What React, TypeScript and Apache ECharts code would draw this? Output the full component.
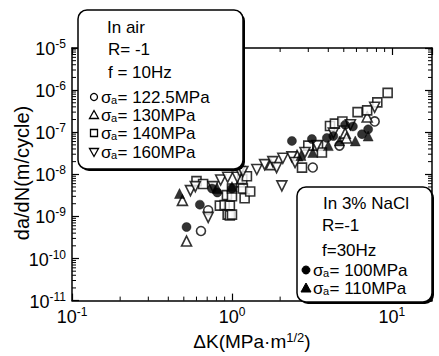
import React, { useEffect, useRef } from "react";
import * as echarts from "echarts";

const X_MIN = 0.1;
const X_MAX = 17.8;
const Y_MIN = 1e-11;
const Y_MAX = 1e-5;

// In air, R=-1, f=10Hz
const air1225: [number, number][] = [
  [0.64, 4.5e-10], [0.71, 1.4e-9], [3.2, 1.45e-8], [4.7, 4.8e-8], [7.8, 1.8e-7],
];
const air130: [number, number][] = [
  [0.49, 2.4e-9], [0.52, 2.6e-10], [1.12, 6.6e-9], [1.75, 1.7e-8], [2.55, 2.8e-8],
  [5.1, 9.5e-8], [5.2, 7.3e-8], [7.0, 2.3e-7],
];
const air140: [number, number][] = [
  [0.6, 6.9e-9], [0.66, 5.9e-9], [0.84, 1.8e-9], [0.9, 1.85e-9], [0.97, 1.8e-9],
  [0.94, 1.1e-9], [0.97, 1.05e-9], [0.93, 3.2e-9], [1.0, 3.0e-9], [1.0, 4.6e-9],
  [1.17, 4.6e-9], [1.16, 7.7e-9], [1.24, 9e-9], [1.2, 2.7e-9], [1.3, 3.9e-9],
  [1.0, 1.1e-9], [2.74, 1.44e-8], [3.0, 4.8e-8], [3.45, 4.8e-8], [3.65, 3.3e-8],
  [4.1, 1.4e-7], [4.4, 1.6e-7], [4.9, 1.8e-7], [6.1, 3.0e-7], [7.0, 3.3e-7],
  [8.1, 5.1e-7], [9.4, 8.6e-7],
];
const air160: [number, number][] = [
  [0.55, 4.1e-9], [0.59, 5.1e-9], [0.71, 9.5e-10], [0.76, 5.1e-9], [0.85, 7.3e-9],
  [0.94, 8.5e-9], [1.08, 8.5e-9], [1.12, 1.17e-8], [1.17, 1.17e-8], [1.43, 1.3e-8],
  [1.6, 1.7e-8], [1.8, 2.0e-8], [1.9, 1.44e-8], [2.05, 5.3e-9], [2.08, 2.4e-8],
  [2.37, 2.6e-8], [2.48, 1.9e-8], [2.86, 3.3e-8], [3.4, 4.8e-8], [4.3, 9.5e-8],
  [5.5, 1.5e-7], [7.8, 3.9e-7],
];
// In 3% NaCl, R=-1, f=30Hz
const nacl100: [number, number][] = [
  [0.52, 5.6e-10], [0.63, 1.9e-9], [0.75, 4.6e-9], [0.81, 3.7e-9], [1.0, 4.6e-9],
  [2.37, 6.2e-8], [3.16, 6.9e-8], [3.92, 7.3e-8], [4.3, 8.1e-8], [5.1, 1.5e-7],
  [5.7, 1.37e-7], [6.5, 9e-8], [7.1, 1.17e-7],
];
const nacl110: [number, number][] = [
  [0.47, 3.5e-9], [0.81, 4.6e-9], [1.0, 5.1e-9], [2.7, 2.8e-8], [3.2, 3.3e-8],
  [4.0, 4.8e-8], [4.7, 6.2e-8], [5.9, 6.2e-8], [7.1, 8.1e-8],
];

const xMinorTicks = [0.2, 0.3, 0.4, 0.5, 0.6, 0.7, 0.8, 0.9, 2, 3, 4, 5, 6, 7, 8, 9];
const yDecades = [1e-11, 1e-10, 1e-9, 1e-8, 1e-7, 1e-6];
const minorMultipliers = [2, 3, 4, 5, 6, 7, 8, 9];

const FONT = '"Liberation Sans", Arial, Helvetica, sans-serif';

export default function App() {
  const ref = useRef<HTMLDivElement>(null);
  useEffect(() => {
    const chart = echarts.init(ref.current!, null, { renderer: "svg" });

    const powLabel = (v: number) => {
      const l = Math.log10(v);
      const e = Math.round(l);
      if (Math.abs(l - e) > 1e-6) return "";
      return `{b|10}{s|${e}}`;
    };
    const labelRich = {
      b: { fontSize: 18, fontFamily: FONT, color: "#000", verticalAlign: "bottom", lineHeight: 20 },
      s: { fontSize: 12, fontFamily: FONT, color: "#000", verticalAlign: "top", lineHeight: 20 },
    };
    const axisLine = { show: true, onZero: false, lineStyle: { color: "#000", width: 1.5 } };
    const axisTick = { show: true, inside: true, length: 7, lineStyle: { color: "#000", width: 1.2 } };

    const minorData: number[][] = [];
    xMinorTicks.forEach((v) => minorData.push([v, Y_MIN, 0]));
    yDecades.forEach((d) => minorMultipliers.forEach((m) => minorData.push([X_MIN, d * m, 1])));

    const open = { color: "#fff", borderColor: "#000", borderWidth: 1.6 };
    const filled = { color: "#000", borderColor: "#000", borderWidth: 0.5 };

    const boxText = (text: string, x: number, y: number, size = 17) => ({
      type: "text", z: 102, x, y,
      style: { text, font: `${size}px ${FONT}`, fill: "#000", verticalAlign: "middle", align: "left", lineHeight: 16 },
    });
    const sigmaText = (rest: string, x: number, y: number) => [
      { type: "text", z: 102, x, y, style: { text: "σ", font: `17px ${FONT}`, fill: "#000", verticalAlign: "middle", align: "left", lineHeight: 15 } },
      { type: "text", z: 102, x: x + 10, y: y + 3, style: { text: "a", font: `11px ${FONT}`, fill: "#000", verticalAlign: "middle", align: "left", lineHeight: 10 } },
      { type: "text", z: 102, x: x + 16.5, y, style: { text: rest, font: `17px ${FONT}`, fill: "#000", verticalAlign: "middle", align: "left", lineHeight: 15 } },
    ];
    const mk = (kind: string, cx: number, cy: number) => {
      const ostyle = { fill: "#fff", stroke: "#000", lineWidth: 1.3 };
      const fstyle = { fill: "#000", stroke: "#000", lineWidth: 1 };
      if (kind === "oc") return { type: "circle", z: 102, shape: { cx, cy, r: 3.5 }, style: ostyle };
      if (kind === "fc") return { type: "circle", z: 102, shape: { cx, cy, r: 4 }, style: fstyle };
      if (kind === "os") return { type: "rect", z: 102, shape: { x: cx - 3.5, y: cy - 3.5, width: 7, height: 7 }, style: ostyle };
      if (kind === "ot") return { type: "polygon", z: 102, shape: { points: [[cx, cy - 4.5], [cx + 4.5, cy + 3.5], [cx - 4.5, cy + 3.5]] }, style: ostyle };
      if (kind === "ft") return { type: "polygon", z: 102, shape: { points: [[cx, cy - 5], [cx + 5, cy + 4], [cx - 5, cy + 4]] }, style: fstyle };
      return { type: "polygon", z: 102, shape: { points: [[cx, cy + 4.5], [cx + 4.5, cy - 3.5], [cx - 4.5, cy - 3.5]] }, style: ostyle };
    };
    const box = (x: number, y: number, w: number, h: number) => [
      { type: "rect", z: 100, shape: { x: x + 2, y: y + 2, width: w, height: h, r: 9 }, style: { fill: "#000" } },
      { type: "rect", z: 101, shape: { x, y, width: w, height: h, r: 9 }, style: { fill: "#fff", stroke: "#000", lineWidth: 1.5 } },
    ];

    const option: any = {
      animation: false,
      backgroundColor: "#fff",
      grid: { left: 72, right: 7, top: 48, bottom: 44, containLabel: false },
      xAxis: [
        {
          type: "log", logBase: 10, min: X_MIN, max: X_MAX, position: "bottom",
          axisLine, axisTick, splitLine: { show: false },
          axisLabel: { formatter: powLabel, rich: labelRich, margin: 5, showMaxLabel: false },
          name: "ΔK(MPa·m{s|1/2})",
          nameLocation: "middle", nameGap: 27,
          nameTextStyle: {
            fontSize: 19, fontFamily: FONT, color: "#000",
            rich: {
              s: { fontSize: 13, fontFamily: FONT, color: "#000", verticalAlign: "top", lineHeight: 22 },
            },
          },
        },
        {
          type: "log", logBase: 10, min: X_MIN, max: X_MAX, position: "top",
          axisLine, axisTick, splitLine: { show: false }, axisLabel: { show: false },
        },
      ],
      yAxis: [
        {
          type: "log", logBase: 10, min: Y_MIN, max: Y_MAX, position: "left",
          axisLine, axisTick, splitLine: { show: false },
          axisLabel: { formatter: powLabel, rich: labelRich, margin: 6 },
        },
        {
          type: "log", logBase: 10, min: Y_MIN, max: Y_MAX, position: "right",
          axisLine, axisTick, splitLine: { show: false }, axisLabel: { show: false },
        },
      ],
      series: [
        {
          type: "custom", clip: false, silent: true, z: 1,
          data: minorData,
          renderItem: (params: any, api: any) => {
            const x = api.value(0);
            const y = api.value(1);
            const kind = api.value(2);
            const L = 4;
            const style = { stroke: "#000", lineWidth: 1 };
            if (kind === 0) {
              const b = api.coord([x, Y_MIN]);
              const t = api.coord([x, Y_MAX]);
              return {
                type: "group",
                children: [
                  { type: "line", shape: { x1: b[0], y1: b[1], x2: b[0], y2: b[1] - L }, style },
                  { type: "line", shape: { x1: t[0], y1: t[1], x2: t[0], y2: t[1] + L }, style },
                ],
              };
            }
            const l = api.coord([X_MIN, y]);
            const r = api.coord([X_MAX, y]);
            return {
              type: "group",
              children: [
                { type: "line", shape: { x1: l[0], y1: l[1], x2: l[0] + L, y2: l[1] }, style },
                { type: "line", shape: { x1: r[0], y1: r[1], x2: r[0] - L, y2: r[1] }, style },
              ],
            };
          },
        },
        { name: "122.5MPa", type: "scatter", data: air1225, symbol: "circle", symbolSize: 9, itemStyle: open },
        { name: "130MPa", type: "scatter", data: air130, symbol: "triangle", symbolSize: 10, itemStyle: open },
        { name: "140MPa", type: "scatter", data: air140, symbol: "rect", symbolSize: 9, itemStyle: open },
        { name: "160MPa", type: "scatter", data: air160, symbol: "triangle", symbolRotate: 180, symbolSize: 10, itemStyle: open },
        { name: "100MPa", type: "scatter", data: nacl100, symbol: "circle", symbolSize: 9, itemStyle: filled },
        { name: "110MPa", type: "scatter", data: nacl110, symbol: "triangle", symbolSize: 10, itemStyle: filled },
      ],
      graphic: [
        {
          type: "text", z: 102, x: 22, y: 173, rotation: Math.PI / 2,
          style: { text: "da/dN(m/cycle)", font: `20px ${FONT}`, fill: "#000", align: "center", verticalAlign: "middle" },
        },
        ...box(78, 10, 165, 159),
        boxText("In air", 107, 27),
        boxText("R= -1", 108, 49),
        boxText("f = 10Hz", 108, 72),
        mk("oc", 94, 97), ...sigmaText("= 122.5MPa", 101, 97),
        mk("ot", 94, 115), ...sigmaText("= 130MPa", 101, 115),
        mk("os", 94, 133), ...sigmaText("= 140MPa", 101, 133),
        mk("dt", 94, 152), ...sigmaText("= 160MPa", 101, 152),
        ...box(297, 187, 135, 115),
        boxText("In 3% NaCl", 323, 203),
        boxText("R=-1", 322, 225),
        boxText("f=30Hz", 322, 250),
        mk("fc", 306, 270), ...sigmaText("= 100MPa", 313, 270),
        mk("ft", 306, 288), ...sigmaText("= 110MPa", 313, 288),
      ],
    };
    chart.setOption(option);
    return () => chart.dispose();
  }, []);
  return <div ref={ref} style={{ position: "absolute", left: 0, top: 0, width: 439, height: 356 }} />;
}
